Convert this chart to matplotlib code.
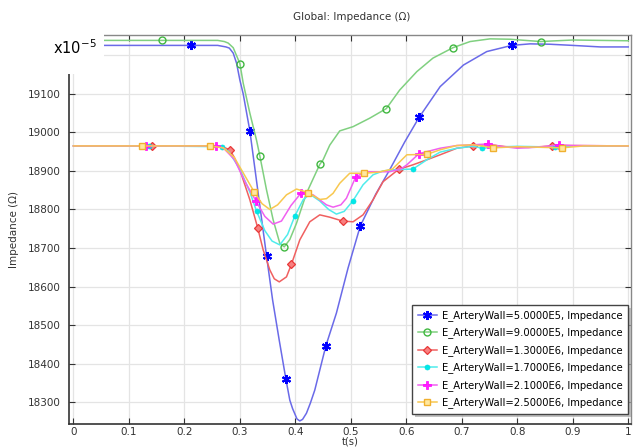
import numpy as np
import matplotlib
matplotlib.use("Agg")
import matplotlib.pyplot as plt
from matplotlib.patches import Rectangle

# ---------------- data ----------------
t_blue = [0.0, 0.212, 0.26, 0.275, 0.281, 0.288, 0.294, 0.300, 0.306, 0.318, 0.333, 0.348,
          0.359, 0.371, 0.383, 0.390, 0.395, 0.403, 0.408, 0.413, 0.420, 0.427, 0.435, 0.455,
          0.474, 0.495, 0.517, 0.545, 0.570, 0.597, 0.623, 0.661, 0.703, 0.745, 0.790, 0.823,
          0.859, 0.90, 0.95, 1.0]
z_blue = [19226, 19226, 19226, 19222, 19219, 19206, 19180, 19136, 19100, 19004, 18842, 18680,
          18565, 18460, 18359, 18305, 18283, 18256, 18251, 18255, 18271, 18297, 18331, 18446,
          18531, 18648, 18757, 18840, 18903, 18975, 19039, 19119, 19175, 19210, 19226, 19230,
          19229, 19226, 19222, 19222]
m_blue = [0.212, 0.318, 0.348, 0.383, 0.455, 0.517, 0.623, 0.790]

t_green = [0.0, 0.160, 0.26, 0.272, 0.279, 0.288, 0.300, 0.306, 0.318, 0.330, 0.336, 0.348,
           0.360, 0.372, 0.380, 0.390, 0.402, 0.420, 0.444, 0.450, 0.462, 0.480, 0.504, 0.534,
           0.564, 0.588, 0.619, 0.648, 0.684, 0.715, 0.751, 0.787, 0.842, 0.90, 1.0]
z_green = [19239, 19239, 19239, 19236, 19232, 19220, 19179, 19128, 19050, 18980, 18939, 18851,
           18773, 18712, 18703, 18722, 18764, 18842, 18917, 18929, 18967, 19004, 19015, 19037,
           19062, 19110, 19158, 19193, 19220, 19236, 19243, 19242, 19236, 19240, 19238]
m_green = [0.160, 0.300, 0.336, 0.380, 0.444, 0.564, 0.684, 0.842]

t_red = [0.0, 0.142, 0.25, 0.270, 0.282, 0.290, 0.300, 0.318, 0.332, 0.342, 0.354, 0.362, 0.371,
         0.384, 0.393, 0.408, 0.426, 0.444, 0.462, 0.485, 0.504, 0.522, 0.540, 0.558, 0.586,
         0.612, 0.637, 0.661, 0.691, 0.721, 0.745, 0.780, 0.820, 0.863, 0.90, 1.0]
z_red = [18965, 18965, 18965, 18962, 18955, 18935, 18903, 18825, 18753, 18695, 18643, 18620, 18612,
         18625, 18658, 18721, 18768, 18786, 18780, 18770, 18768, 18786, 18825, 18872, 18904,
         18916, 18929, 18942, 18959, 18965, 18969, 18963, 18961, 18965, 18966, 18965]
m_red = [0.142, 0.282, 0.332, 0.393, 0.485, 0.586, 0.721, 0.863]

t_cyan = [0.0, 0.137, 0.267, 0.280, 0.300, 0.318, 0.330, 0.345, 0.358, 0.372, 0.386, 0.399,
          0.414, 0.426, 0.444, 0.460, 0.474, 0.488, 0.504, 0.522, 0.540, 0.558, 0.576, 0.612,
          0.637, 0.661, 0.691, 0.721, 0.737, 0.760, 0.800, 0.868, 0.90, 1.0]
z_cyan = [18965, 18965, 18963, 18950, 18905, 18845, 18796, 18745, 18718, 18708, 18735, 18783,
          18825, 18840, 18822, 18800, 18788, 18795, 18823, 18864, 18890, 18900, 18903, 18905,
          18929, 18949, 18959, 18964, 18959, 18962, 18964, 18962, 18965, 18965]
m_cyan = [0.137, 0.267, 0.330, 0.399, 0.504, 0.612, 0.737, 0.868]

t_mag = [0.0, 0.131, 0.257, 0.270, 0.290, 0.310, 0.329, 0.345, 0.360, 0.375, 0.392, 0.411,
         0.432, 0.456, 0.468, 0.482, 0.492, 0.509, 0.528, 0.546, 0.570, 0.590, 0.601, 0.623,
         0.661, 0.691, 0.720, 0.747, 0.770, 0.800, 0.840, 0.876, 0.90, 1.0]
z_mag = [18965, 18965, 18965, 18960, 18930, 18870, 18822, 18782, 18762, 18770, 18810, 18844,
         18838, 18812, 18806, 18812, 18829, 18885, 18898, 18898, 18898, 18905, 18916, 18945,
         18959, 18966, 18968, 18970, 18964, 18959, 18962, 18968, 18966, 18965]
m_mag = [0.131, 0.257, 0.329, 0.411, 0.509, 0.623, 0.747, 0.876]

t_yel = [0.0, 0.123, 0.246, 0.270, 0.290, 0.310, 0.326, 0.340, 0.354, 0.368, 0.384, 0.402,
         0.423, 0.444, 0.456, 0.468, 0.480, 0.498, 0.524, 0.550, 0.575, 0.601, 0.637, 0.661,
         0.691, 0.721, 0.757, 0.800, 0.880, 0.920, 1.0]
z_yel = [18965, 18965, 18965, 18960, 18935, 18885, 18845, 18815, 18800, 18812, 18838, 18853,
         18844, 18826, 18828, 18842, 18868, 18894, 18894, 18897, 18905, 18942, 18943, 18955,
         18966, 18968, 18960, 18963, 18960, 18965, 18965]
m_yel = [0.123, 0.246, 0.326, 0.423, 0.524, 0.637, 0.757, 0.880]

labels = ["E_ArteryWall=5.0000E5, Impedance",
          "E_ArteryWall=9.0000E5, Impedance",
          "E_ArteryWall=1.3000E6, Impedance",
          "E_ArteryWall=1.7000E6, Impedance",
          "E_ArteryWall=2.1000E6, Impedance",
          "E_ArteryWall=2.5000E6, Impedance"]

x_ticks = [0, 0.1, 0.2, 0.3, 0.4, 0.5, 0.6, 0.7, 0.8, 0.9, 1]
x_ticklabels = ["0", "0.1", "0.2", "0.3", "0.4", "0.5", "0.6", "0.7", "0.8", "0.9", "1"]
y_ticks = [18300, 18400, 18500, 18600, 18700, 18800, 18900, 19000, 19100, 19200]
y_ticklabels = ["18300", "18400", "18500", "18600", "18700", "18800", "18900", "19000", "19100", ""]

# ---------------- figure ----------------
fig = plt.figure(figsize=(6.33, 4.47), dpi=100)
ax = fig.add_axes([69/633, 1-424/447, (631-69)/633, (424-35)/447])

series = [
    (t_blue, z_blue, m_blue, dict(color="#6a6ae8", marker=(6, 2, 0), ms=6.5, mew=1.5,
                                  mec="#0000ff", mfc="#0000ff")),
    (t_green, z_green, m_green, dict(color="#80d080", marker="o", ms=5, mew=1.0,
                                     mec="#40b840", mfc="none")),
    (t_red, z_red, m_red, dict(color="#f06060", marker="D", ms=4, mew=0.9,
                               mec="#e83838", mfc="#f88080")),
    (t_cyan, z_cyan, m_cyan, dict(color="#50ecec", marker="o", ms=3.6, mew=0.5,
                                  mec="#00e0e0", mfc="#00e8e8")),
    (t_mag, z_mag, m_mag, dict(color="#f060f0", marker="P", ms=6, mew=0.5,
                               mec="#ff00ff", mfc="#ff20ff")),
    (t_yel, z_yel, m_yel, dict(color="#f8c850", marker="s", ms=5, mew=1.0,
                               mec="#f0b030", mfc="#ffe8a0")),
]

for (t, z, mk, st), lab in zip(series, labels):
    t = np.asarray(t)
    idx = [int(np.argmin(np.abs(t - m))) for m in mk]
    ax.plot(t, z, lw=1.1, markevery=idx, label=lab, **st)

ax.set_xlim(-0.008, 1.005)
ax.set_ylim(18243, 19253)
ax.set_xticks(x_ticks)
ax.set_xticklabels(x_ticklabels)
ax.set_yticks(y_ticks)
ax.set_yticklabels(y_ticklabels)
ax.grid(True, color="#e4e4e4", lw=0.9)
ax.set_axisbelow(True)
ax.tick_params(direction="in", length=4, width=0.8, labelsize=7.5, colors="#333333",
               top=True, right=True, pad=2.5)
ax.tick_params(axis="y", pad=6)
for side in ["left", "bottom"]:
    ax.spines[side].set_color("#333333")
    ax.spines[side].set_linewidth(1.2)
for side in ["top", "right"]:
    ax.spines[side].set_color("#888888")
    ax.spines[side].set_linewidth(1.0)

ax.set_ylabel("Impedance (Ω)", fontsize=7.5, color="#333333", labelpad=6)
fig.text(350/633, 1-442/447, "t(s)", fontsize=7.2, color="#333333", ha="center", va="center")
fig.text(352/633, 1-17/447, "Global: Impedance (Ω)", fontsize=7.5, color="#333333",
         ha="center", va="center")

leg = ax.legend(loc="lower right", fontsize=7.2, frameon=True, fancybox=False,
                shadow=False, bbox_to_anchor=(628/633, 1-414/447),
                bbox_transform=fig.transFigure, borderaxespad=0.0, framealpha=1.0,
                facecolor="white",
                handlelength=1.9, handletextpad=0.5, labelspacing=0.66, borderpad=0.55)
leg.get_frame().set_edgecolor("#444444")
leg.get_frame().set_linewidth(1.0)
leg.set_zorder(6)

# subtle drop shadow for the legend (drawn just below the legend inside the axes)
fig.canvas.draw()
bb = leg.get_window_extent().transformed(fig.transFigure.inverted())
shadow = Rectangle((bb.x0 + 3/633, bb.y0 - 3/447), bb.width, bb.height,
                   transform=fig.transFigure, facecolor="#a8a8a8",
                   edgecolor="none", alpha=0.7, zorder=5.5, clip_on=False)
ax.add_artist(shadow)

# white overlay box with the exponent label at top-left
fig.patches.append(Rectangle((0, 1-74/447), 104/633, (74-28)/447, transform=fig.transFigure,
                             facecolor="white", edgecolor="none", zorder=10))
fig.text(53/633, 1-48/447, r"x10$^{-5}$", fontsize=10.5, color="black",
         ha="left", va="center", zorder=11)

fig.savefig("out.png", dpi=100)
